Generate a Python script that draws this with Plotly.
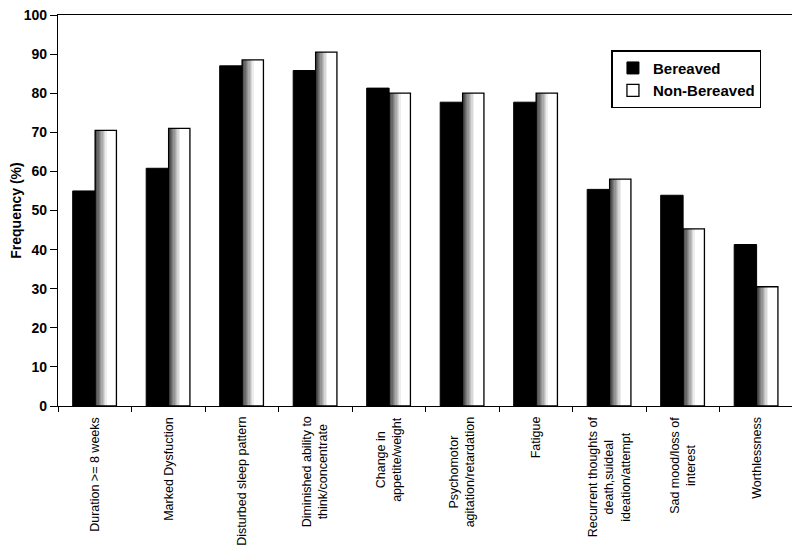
import plotly.graph_objects as go

# data
categories = [
    "Duration >= 8 weeks",
    "Marked Dysfuction",
    "Disturbed sleep pattern",
    "Diminished ability to<br>think/concentrate",
    "Change in<br>appetite/weight",
    "Psychomotor<br>agitation/retardation",
    "Fatigue",
    "Recurrent thoughts of<br>death,suideal<br>ideation/attempt",
    "Sad mood/loss of<br>interest",
    "Worthlessness",
]
bereaved = [55.0, 60.8, 87.0, 85.8, 81.3, 77.7, 77.7, 55.4, 53.9, 41.3]
non_bereaved = [70.5, 71.0, 88.5, 90.5, 80.0, 80.0, 80.0, 58.0, 45.3, 30.5]

cat_ids = [c.replace("<br>", " ") for c in categories]

fig = go.Figure()

# bereaved - solid black bars
fig.add_trace(go.Bar(
    x=cat_ids, y=bereaved, name="Bereaved",
    offset=-0.30, width=0.305,
    marker=dict(color="black", line=dict(color="black", width=1)),
))

# non-bereaved - fake horizontal gradient with thin strips
W = 0.29
N = 16
for i in range(N):
    t = min(1.0, i / (N * 0.55))
    g = int(60 + (255 - 60) * t)
    fig.add_trace(go.Bar(
        x=cat_ids, y=non_bereaved, showlegend=False, hoverinfo="skip",
        offset=0.005 + i * W / N, width=W / N + 0.002,
        marker=dict(color=f"rgb({g},{g},{g})", line=dict(width=0)),
    ))

# outline of the non-bereaved bars
fig.add_trace(go.Bar(
    x=cat_ids, y=non_bereaved, name="Non-Bereaved",
    offset=0.005, width=W,
    marker=dict(color="rgba(255,255,255,0)", line=dict(color="black", width=1.3)),
))

# rotated, centred category labels under the axis
for cid, lab in zip(cat_ids, categories):
    fig.add_annotation(
        x=cid, y=-0.022, xref="x", yref="paper",
        text=lab, textangle=-90, showarrow=False,
        xanchor="center", yanchor="top", align="center",
        font=dict(family="Arial, Liberation Sans", size=12.5, color="black"),
    )

# page body has an 8px margin, so the figure is a bit smaller than the window
fig.update_layout(
    width=792, height=544,
    margin=dict(l=50, r=7, t=7, b=146),
    plot_bgcolor="white", paper_bgcolor="white",
    barmode="overlay",
    showlegend=True,
    legend=dict(
        x=0.753, y=0.91, xanchor="left", yanchor="top",
        bordercolor="black", borderwidth=1.5, bgcolor="white",
        font=dict(family="Arial, Liberation Sans", size=15, color="black", weight="bold"),
        tracegroupgap=2, itemwidth=30,
    ),
    font=dict(family="Arial, Liberation Sans", color="black"),
)

fig.update_xaxes(
    type="category", categoryorder="array", categoryarray=cat_ids,
    showticklabels=False, tickson="boundaries",
    ticks="outside", ticklen=5, tickcolor="black", tickwidth=1,
    showline=True, linecolor="black", linewidth=1.2, mirror=True,
    showgrid=False, automargin=False,
)

fig.update_yaxes(
    range=[0, 100], dtick=10,
    ticks="outside", ticklen=7, tickcolor="black", tickwidth=1,
    tickfont=dict(size=14, weight="bold"), ticklabeloverflow="allow",
    showline=True, linecolor="black", linewidth=1.2, mirror=True,
    showgrid=False, zeroline=False, automargin=False,
    title=dict(text="Frequency (%)", font=dict(size=14, weight="bold"), standoff=10),
)

fig.write_html("out.html")
